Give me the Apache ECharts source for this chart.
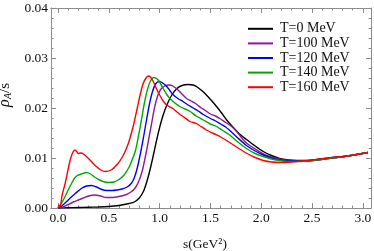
<!DOCTYPE html>
<html><head><meta charset="utf-8">
<script src="https://cdn.jsdelivr.net/npm/echarts@6/dist/echarts.min.js"></script>
<style>html,body{margin:0;padding:0;background:#fff}#c{width:374px;height:251px}</style>
</head><body><div id="c"></div>
<script>
const seriesNames = ['T=0 MeV','T=100 MeV','T=120 MeV','T=140 MeV','T=160 MeV'];
const seriesColors = ['#000000','#8e1a9a','#0000ff','#00a800','#ff0000'];
const xMajorTicks = [0,0.5,1.0,1.5,2.0,2.5,3.0];
const xMinorTicks = [0,0.1,0.2,0.3,0.4,0.5,0.6,0.7,0.8,0.9,1.0,1.1,1.2,1.3,1.4,1.5,1.6,1.7,1.8,1.9,2.0,2.1,2.2,2.3,2.4,2.5,2.6,2.7,2.8,2.9,3.0];
const yTicks = [0,0.01,0.02,0.03,0.04];

const t0 = [[0,0],[0.1,0.00005],[0.2,0.0001],[0.3,0.00015],[0.4,0.0002],[0.5,0.0003],[0.6,0.0005],[0.65,0.0007],[0.7,0.0009],[0.75,0.0012],[0.8,0.0020],[0.84,0.0033],[0.87,0.0050],[0.9,0.0072],[0.93,0.0098],[0.96,0.0126],[0.99,0.0153],[1.02,0.0176],[1.05,0.0195],[1.08,0.0210],[1.12,0.0226],[1.17,0.0239],[1.22,0.0245],[1.28,0.0247],[1.33,0.0246],[1.37,0.0242],[1.42,0.0234],[1.46,0.0226],[1.51,0.0215],[1.56,0.0203],[1.61,0.0190],[1.66,0.0176],[1.72,0.0162],[1.78,0.0149],[1.855,0.0137],[1.94,0.0124],[2.02,0.0113],[2.1,0.0105],[2.18,0.0099],[2.27,0.0096],[2.35,0.0095],[2.45,0.0095],[2.55,0.0097],[2.7,0.0101],[2.85,0.0104],[3.05,0.0111]];
const t100 = [[0,0],[0.05,0.0002],[0.1,0.0007],[0.15,0.0012],[0.2,0.0016],[0.25,0.0020],[0.3,0.0024],[0.36,0.0026],[0.42,0.0024],[0.47,0.0021],[0.53,0.0021],[0.6,0.0023],[0.66,0.0026],[0.71,0.0031],[0.76,0.0040],[0.8,0.0056],[0.83,0.0075],[0.86,0.0103],[0.89,0.0135],[0.92,0.0168],[0.95,0.0201],[0.98,0.0224],[1.01,0.0237],[1.05,0.0244],[1.095,0.0246],[1.13,0.0244],[1.17,0.0238],[1.22,0.0228],[1.265,0.0219],[1.31,0.0214],[1.36,0.0208],[1.41,0.0200],[1.45,0.0195],[1.5,0.0188],[1.55,0.0184],[1.6,0.0178],[1.65,0.0171],[1.69,0.0166],[1.75,0.0155],[1.8,0.0142],[1.855,0.0130],[1.94,0.0118],[2.02,0.0108],[2.1,0.0102],[2.18,0.0098],[2.27,0.0095],[2.35,0.0094],[2.45,0.0094],[2.55,0.0096],[2.7,0.0100],[2.85,0.0104],[3.05,0.0111]];
const t120 = [[0,0],[0.03,0.0003],[0.07,0.0010],[0.12,0.0020],[0.17,0.0029],[0.23,0.0039],[0.28,0.0044],[0.33,0.0045],[0.38,0.0042],[0.43,0.0037],[0.48,0.0035],[0.53,0.0035],[0.58,0.0036],[0.63,0.0038],[0.68,0.0042],[0.72,0.0049],[0.75,0.0060],[0.78,0.0080],[0.81,0.0108],[0.84,0.0140],[0.87,0.0175],[0.9,0.0208],[0.93,0.0233],[0.96,0.0248],[0.995,0.0253],[1.03,0.0250],[1.07,0.0243],[1.1,0.0235],[1.135,0.0226],[1.18,0.0219],[1.23,0.0213],[1.28,0.0206],[1.33,0.0200],[1.38,0.0194],[1.43,0.0187],[1.5,0.0179],[1.55,0.0174],[1.6,0.0168],[1.65,0.0162],[1.69,0.0155],[1.77,0.0140],[1.855,0.0125],[1.94,0.0114],[2.02,0.0106],[2.1,0.0100],[2.18,0.0096],[2.27,0.0094],[2.35,0.0094],[2.45,0.0094],[2.55,0.0096],[2.7,0.0100],[2.85,0.0104],[3.05,0.0111]];
const t140 = [[0,0],[0.03,0.0008],[0.07,0.0023],[0.1,0.0036],[0.13,0.0048],[0.16,0.0059],[0.19,0.0065],[0.23,0.0068],[0.28,0.0071],[0.32,0.0068],[0.36,0.0062],[0.41,0.0056],[0.46,0.0052],[0.5,0.0051],[0.55,0.0052],[0.6,0.0057],[0.65,0.0066],[0.7,0.0082],[0.73,0.0097],[0.76,0.0113],[0.79,0.0142],[0.82,0.0175],[0.85,0.0210],[0.88,0.0237],[0.91,0.0254],[0.945,0.0261],[0.975,0.0258],[1.0,0.0252],[1.035,0.0239],[1.07,0.0227],[1.1,0.0219],[1.15,0.0210],[1.2,0.0203],[1.25,0.0198],[1.3,0.0193],[1.36,0.0184],[1.43,0.0176],[1.5,0.0168],[1.56,0.0163],[1.62,0.0155],[1.69,0.0146],[1.77,0.0132],[1.855,0.0119],[1.94,0.0109],[2.02,0.0103],[2.1,0.0098],[2.18,0.0095],[2.27,0.0093],[2.35,0.0093],[2.45,0.0094],[2.55,0.0096],[2.7,0.0100],[2.85,0.0104],[3.05,0.0111]];
const t160 = [[0,0],[0.01,0.0006],[0.02,0.0002],[0.04,0.0025],[0.07,0.0049],[0.1,0.0078],[0.12,0.0096],[0.145,0.0111],[0.167,0.0116],[0.185,0.0113],[0.2,0.0109],[0.225,0.0110],[0.25,0.0108],[0.3,0.0099],[0.36,0.0086],[0.43,0.0075],[0.47,0.0073],[0.53,0.0077],[0.59,0.0089],[0.63,0.0101],[0.66,0.0113],[0.69,0.0128],[0.72,0.0148],[0.75,0.0172],[0.78,0.0200],[0.81,0.0228],[0.84,0.0250],[0.87,0.0261],[0.89,0.0264],[0.905,0.0263],[0.94,0.0252],[0.97,0.0238],[1.0,0.0226],[1.035,0.0214],[1.07,0.0206],[1.13,0.0199],[1.2,0.0187],[1.23,0.0183],[1.3,0.0173],[1.36,0.0169],[1.46,0.0156],[1.53,0.0149],[1.6,0.0142],[1.69,0.0131],[1.78,0.0119],[1.86,0.0109],[1.94,0.0101],[2.02,0.0095],[2.1,0.0092],[2.2,0.0091],[2.3,0.0092],[2.4,0.0094],[2.5,0.0096],[2.7,0.0101],[2.85,0.0104],[3.05,0.0111]];
const seriesData = [t0,t100,t120,t140,t160];

const FONT = 'Liberation Serif';
const AX = '#8c8c8c';
const xBase = {type:'value', min:-0.069, max:3.08, splitLine:{show:false},
  axisLine:{show:true, onZero:false, lineStyle:{color:AX, width:1}}};
const chart = echarts.init(document.getElementById('c'), null, {renderer:'canvas'});
chart.setOption({
  animation:false,
  grid:{left:51, right:3, top:8, bottom:43, containLabel:false, outerBoundsMode:'none'},
  legend:{orient:'vertical', left:243, top:16.5, itemWidth:25, itemHeight:2, itemGap:0, icon:'rect',
    textStyle:{fontFamily:FONT, fontSize:14, lineHeight:14.6, color:'#111', padding:[0,0,0,2]},
    data:seriesNames},
  xAxis:[
    Object.assign({}, xBase, {position:'bottom', name:'s(GeV\u00b2)', nameLocation:'middle', nameGap:29,
      nameTextStyle:{fontFamily:FONT, fontSize:13.5, color:'#111', padding:[0,12,0,0]},
      axisTick:{show:true, inside:true, length:5, customValues:xMajorTicks, lineStyle:{color:AX}},
      axisLabel:{show:true, customValues:xMajorTicks, formatter:v=>v.toFixed(1), margin:3, fontFamily:FONT, fontSize:13.5, color:'#111'}}),
    Object.assign({}, xBase, {position:'bottom',
      axisTick:{show:true, inside:true, length:2.5, customValues:xMinorTicks, lineStyle:{color:AX}},
      axisLabel:{show:false}}),
    Object.assign({}, xBase, {position:'top',
      axisTick:{show:true, inside:true, length:5, customValues:xMajorTicks, lineStyle:{color:AX}},
      axisLabel:{show:false}}),
    Object.assign({}, xBase, {position:'top',
      axisTick:{show:true, inside:true, length:2.5, customValues:xMinorTicks, lineStyle:{color:AX}},
      axisLabel:{show:false}})
  ],
  yAxis:[
    {type:'value', min:yTicks[0], max:yTicks[yTicks.length-1], interval:0.01, position:'left',
     name:'{r|\u03c1}{s|A}{n|/s}', nameLocation:'middle', nameGap:33, nameRotate:90,
     nameTextStyle:{padding:[0,0,0,26], rich:{r:{fontFamily:FONT, fontStyle:'italic', fontSize:16, color:'#111'}, s:{fontFamily:FONT, fontStyle:'italic', fontSize:10.5, color:'#111', padding:[6,0,0,0]}, n:{fontFamily:FONT, fontSize:15, color:'#111'}}},
     splitLine:{show:false},
     axisLine:{show:true, onZero:false, lineStyle:{color:AX}},
     axisTick:{show:true, inside:true, length:5, lineStyle:{color:AX}},
     minorTick:{show:true, splitNumber:5, length:2.5, lineStyle:{color:AX}},
     axisLabel:{formatter:v=>v.toFixed(2), margin:3, fontFamily:FONT, fontSize:13.5, color:'#111'}},
    {type:'value', min:yTicks[0], max:yTicks[yTicks.length-1], interval:0.01, position:'right',
     splitLine:{show:false},
     axisLine:{show:true, onZero:false, lineStyle:{color:AX}},
     axisTick:{show:true, inside:true, length:5, lineStyle:{color:AX}},
     minorTick:{show:true, splitNumber:5, length:2.5, lineStyle:{color:AX}},
     axisLabel:{show:false}}
  ],
  series: seriesNames.map((n,i)=>({name:n, type:'line', xAxisIndex:0, yAxisIndex:0, data:seriesData[i],
    showSymbol:false, symbol:'none', smooth:0.25, color:seriesColors[i],
    lineStyle:{width:1.4, color:seriesColors[i]}, z:2+i}))
});
</script></body></html>
